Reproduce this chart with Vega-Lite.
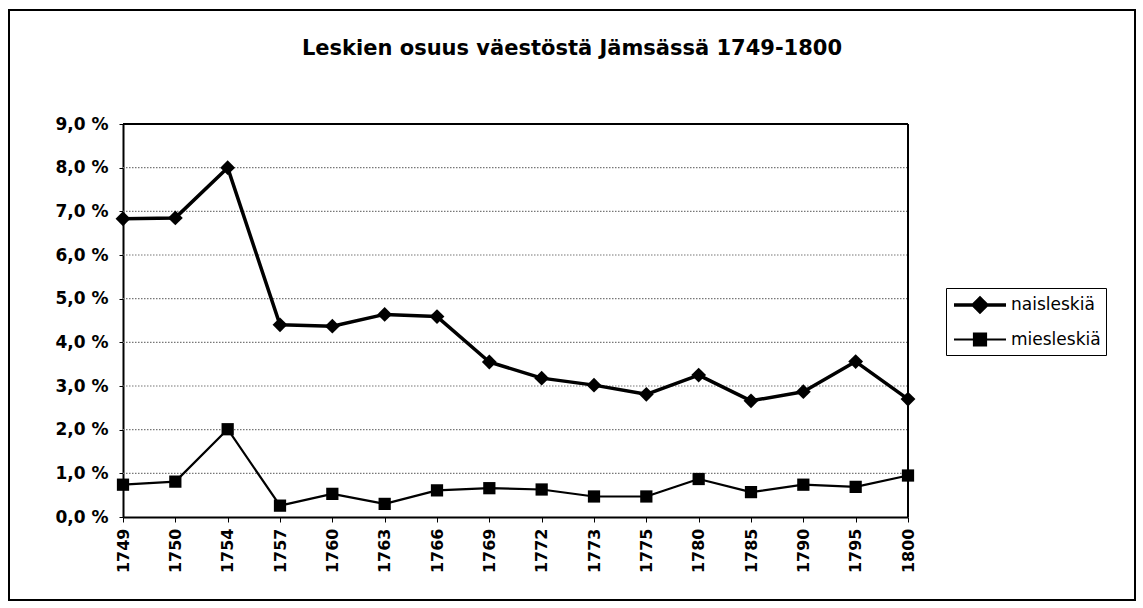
{
  "$schema": "https://vega.github.io/schema/vega-lite/v6.json",
  "width": 1126,
  "height": 590,
  "autosize": "none",
  "padding": {"left": 9, "top": 10, "right": 8, "bottom": 8},
  "background": "white",
  "config": {
    "view": {"stroke": "black", "strokeWidth": 2},
    "font": "DejaVu Sans"
  },
  "title": {
    "text": "Leskien osuus väestöstä Jämsässä 1749-1800",
    "orient": "top",
    "anchor": "middle",
    "frame": "group",
    "offset": -70,
    "baseline": "bottom",
    "font": "DejaVu Sans",
    "fontSize": 21,
    "fontWeight": "bold",
    "color": "black"
  },
  "datasets": {
    "series": [
      {"year": "1749", "sarja": "naisleskiä", "osuus": 6.83},
      {"year": "1750", "sarja": "naisleskiä", "osuus": 6.85},
      {"year": "1754", "sarja": "naisleskiä", "osuus": 8.0},
      {"year": "1757", "sarja": "naisleskiä", "osuus": 4.4},
      {"year": "1760", "sarja": "naisleskiä", "osuus": 4.37},
      {"year": "1763", "sarja": "naisleskiä", "osuus": 4.64},
      {"year": "1766", "sarja": "naisleskiä", "osuus": 4.59},
      {"year": "1769", "sarja": "naisleskiä", "osuus": 3.55},
      {"year": "1772", "sarja": "naisleskiä", "osuus": 3.18},
      {"year": "1773", "sarja": "naisleskiä", "osuus": 3.02},
      {"year": "1775", "sarja": "naisleskiä", "osuus": 2.81},
      {"year": "1780", "sarja": "naisleskiä", "osuus": 3.25},
      {"year": "1785", "sarja": "naisleskiä", "osuus": 2.66},
      {"year": "1790", "sarja": "naisleskiä", "osuus": 2.87},
      {"year": "1795", "sarja": "naisleskiä", "osuus": 3.56},
      {"year": "1800", "sarja": "naisleskiä", "osuus": 2.7},
      {"year": "1749", "sarja": "miesleskiä", "osuus": 0.74},
      {"year": "1750", "sarja": "miesleskiä", "osuus": 0.81},
      {"year": "1754", "sarja": "miesleskiä", "osuus": 2.01},
      {"year": "1757", "sarja": "miesleskiä", "osuus": 0.26},
      {"year": "1760", "sarja": "miesleskiä", "osuus": 0.53},
      {"year": "1763", "sarja": "miesleskiä", "osuus": 0.3},
      {"year": "1766", "sarja": "miesleskiä", "osuus": 0.61},
      {"year": "1769", "sarja": "miesleskiä", "osuus": 0.66},
      {"year": "1772", "sarja": "miesleskiä", "osuus": 0.63},
      {"year": "1773", "sarja": "miesleskiä", "osuus": 0.47},
      {"year": "1775", "sarja": "miesleskiä", "osuus": 0.47},
      {"year": "1780", "sarja": "miesleskiä", "osuus": 0.87},
      {"year": "1785", "sarja": "miesleskiä", "osuus": 0.57},
      {"year": "1790", "sarja": "miesleskiä", "osuus": 0.74},
      {"year": "1795", "sarja": "miesleskiä", "osuus": 0.69},
      {"year": "1800", "sarja": "miesleskiä", "osuus": 0.95}
    ],
    "grid": [{"v": 1}, {"v": 2}, {"v": 3}, {"v": 4}, {"v": 5}, {"v": 6}, {"v": 7}, {"v": 8}]
  },
  "layer": [
    {
      "data": {"name": "grid"},
      "mark": {"type": "rule", "color": "#777777", "strokeWidth": 1.2, "strokeDash": [1.5, 1.5]},
      "encoding": {
        "y": {"field": "v", "type": "quantitative"},
        "x": {"datum": "1749", "type": "ordinal"},
        "x2": {"datum": "1800"}
      }
    },
    {
      "data": {"values": [{"top": 9}]},
      "mark": {"type": "rule", "color": "black", "strokeWidth": 2},
      "encoding": {
        "y": {"field": "top", "type": "quantitative"},
        "x": {"datum": "1749", "type": "ordinal"},
        "x2": {"datum": "1800"}
      }
    },
    {
      "data": {"values": [{"year": "1800", "lo": 0, "hi": 9}]},
      "mark": {"type": "rule", "color": "black", "strokeWidth": 2},
      "encoding": {
        "x": {"field": "year", "type": "ordinal"},
        "y": {"field": "lo", "type": "quantitative"},
        "y2": {"field": "hi"}
      }
    },
    {
      "data": {"name": "series"},
      "mark": {"type": "line", "strokeJoin": "round"},
      "encoding": {
        "x": {
          "field": "year",
          "type": "ordinal",
          "scale": {"type": "point", "range": [114, 899], "padding": 0},
          "axis": {
            "title": null,
            "orient": "bottom",
            "offset": -83,
            "domainColor": "black",
            "domainWidth": 2,
            "tickColor": "black",
            "tickSize": 5,
            "tickWidth": 1,
            "labelAngle": 270,
            "labelAlign": "right",
            "labelBaseline": "middle",
            "labelPadding": 6,
            "labelFont": "DejaVu Sans",
            "labelFontSize": 16,
            "labelFontWeight": "bold",
            "labelColor": "black",
            "grid": false
          }
        },
        "y": {
          "field": "osuus",
          "type": "quantitative",
          "scale": {"domain": [0, 9], "range": [507, 114], "nice": false, "zero": true},
          "axis": {
            "title": null,
            "orient": "left",
            "offset": -114,
            "values": [0, 1, 2, 3, 4, 5, 6, 7, 8, 9],
            "labelExpr": "replace(format(datum.value, '.1f'), '.', ',') + ' %'",
            "domainColor": "black",
            "domainWidth": 2,
            "tickColor": "black",
            "tickSize": 4,
            "labelPadding": 11,
            "labelFont": "DejaVu Sans",
            "labelFontSize": 17,
            "labelFontWeight": "bold",
            "labelColor": "black",
            "grid": false
          }
        },
        "color": {
          "field": "sarja",
          "type": "nominal",
          "scale": {"domain": ["naisleskiä", "miesleskiä"], "range": ["black", "black"]},
          "legend": {
            "title": null,
            "orient": "none",
            "legendX": 937,
            "legendY": 278,
            "strokeColor": "black",
            "fillColor": "white",
            "padding": 5,
            "rowPadding": 9,
            "symbolSize": 400,
            "symbolOffset": 17,
            "symbolType": "M-2.6,0L2.6,0",
            "labelFont": "DejaVu Sans",
            "labelFontSize": 17,
            "labelColor": "black",
            "labelOffset": 19,
            "encode": {
              "symbols": {
                "update": {
                  "shape": {"signal": "datum.value === 'naisleskiä' ? 'M-2.6,0L2.6,0M-0.68,0L0,-0.68L0.68,0L0,0.68Z' : 'M-2.6,0L2.6,0M-0.6,-0.6H0.6V0.6H-0.6Z'"},
                  "fill": {"value": "black"},
                  "stroke": {"value": "black"},
                  "strokeWidth": {"signal": "datum.value === 'naisleskiä' ? 2.5 : 1.5"},
                  "opacity": {"value": 1}
                }
              }
            }
          }
        },
        "strokeWidth": {
          "field": "sarja",
          "type": "nominal",
          "scale": {"domain": ["naisleskiä", "miesleskiä"], "range": [3.5, 2.2]},
          "legend": null
        }
      }
    },
    {
      "data": {"name": "series"},
      "transform": [{"filter": "datum.sarja === 'naisleskiä'"}],
      "mark": {"type": "point", "shape": "diamond", "filled": true, "opacity": 1, "color": "black", "size": 220},
      "encoding": {
        "x": {"field": "year", "type": "ordinal"},
        "y": {"field": "osuus", "type": "quantitative"}
      }
    },
    {
      "data": {"name": "series"},
      "transform": [{"filter": "datum.sarja === 'miesleskiä'"}],
      "mark": {"type": "point", "shape": "square", "filled": true, "opacity": 1, "color": "black", "size": 150},
      "encoding": {
        "x": {"field": "year", "type": "ordinal"},
        "y": {"field": "osuus", "type": "quantitative"}
      }
    }
  ]
}
